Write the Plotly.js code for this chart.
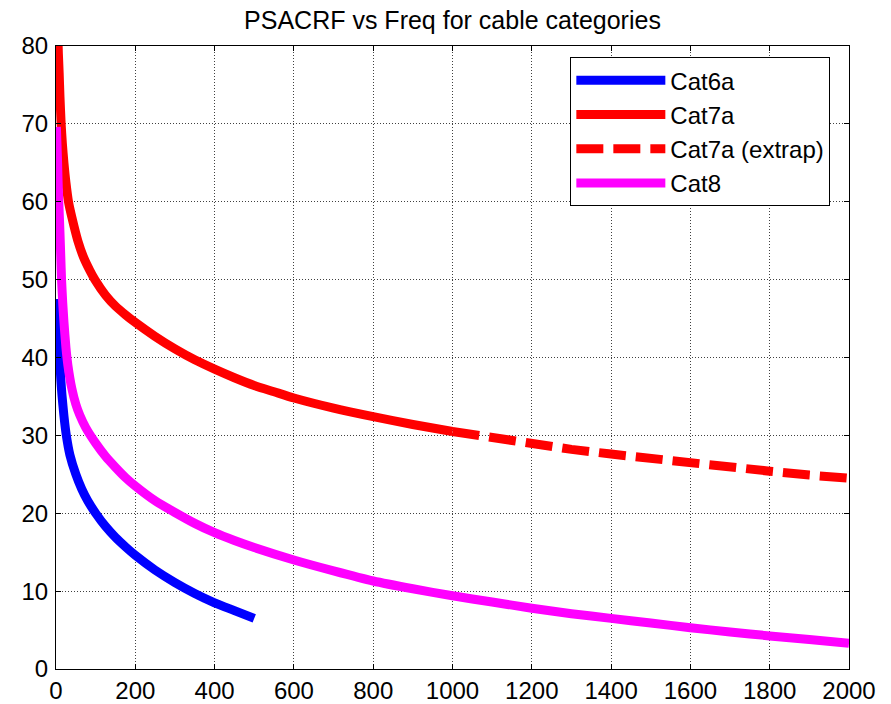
<!DOCTYPE html>
<html>
<head>
<meta charset="utf-8">
<script src="https://cdn.plot.ly/plotly-3.0.1.min.js"></script>
<style>
  html, body { margin: 0; padding: 0; background: #fff; }
  #chart { width: 891px; height: 704px; }
</style>
</head>
<body>
<div id="chart"></div>
<script>
// Frequency (MHz) and PSACRF (dB) per cable category
const cat6aFreq = [1, 2, 4, 6, 9, 12, 15, 20, 26, 35, 50, 65, 80, 100, 125, 150, 175, 200, 250, 300, 350, 400, 450, 500];
const cat6aVals = [47.5, 46, 44, 42, 40, 37.3, 35.2, 32.5, 30, 27.5, 25.0, 23.1, 21.6, 20.0, 18.3, 16.9, 15.7, 14.6, 12.7, 11.1, 9.7, 8.5, 7.5, 6.5];

const cat7aFreq = [1, 2, 3, 4, 6, 8, 10, 13, 16, 20, 25, 31.5, 40, 55, 70, 85, 98, 125, 150, 175, 200, 250, 300, 350, 400, 450, 500, 550, 600, 700, 800, 900, 1000];
const cat7aVals = [90, 87, 84.5, 82.5, 79, 76.5, 73.5, 70, 67.5, 65, 62.5, 60, 58, 55, 52.8, 51.2, 50, 48.0, 46.6, 45.5, 44.5, 42.7, 41.1, 39.7, 38.5, 37.4, 36.4, 35.6, 34.8, 33.5, 32.4, 31.4, 30.5];

const cat7aExtFreq = [1000, 1100, 1200, 1300, 1400, 1500, 1600, 1700, 1800, 1900, 2000];
const cat7aExtVals = [30.5, 29.7, 28.9, 28.2, 27.6, 27.0, 26.4, 25.9, 25.4, 24.9, 24.5];

const cat8Freq = [1, 2, 3, 4, 5, 7, 10, 12, 14, 17, 20, 25, 30, 40, 50, 60, 75, 100, 125, 150, 175, 200, 250, 300, 350, 400, 450, 500, 600, 700, 800, 900, 1000, 1100, 1200, 1300, 1400, 1500, 1600, 1700, 1800, 1900, 2000];
const cat8Vals = [69.6, 68, 66.5, 65, 63, 60, 56, 53, 50, 47, 44.6, 41.3, 39.0, 36.0, 34.0, 32.6, 31.0, 29.0, 27.3, 25.9, 24.6, 23.5, 21.6, 20.1, 18.7, 17.5, 16.5, 15.6, 14.0, 12.6, 11.3, 10.3, 9.4, 8.6, 7.8, 7.1, 6.5, 5.9, 5.3, 4.75, 4.25, 3.8, 3.3];

const xTicks = [0, 200, 400, 600, 800, 1000, 1200, 1400, 1600, 1800, 2000];
const yTicks = [0, 10, 20, 30, 40, 50, 60, 70, 80];

const LW = 9;
const FONT = 'Liberation Sans, Arial, sans-serif';

const traces = [
  { x: cat6aFreq, y: cat6aVals, name: 'Cat6a', mode: 'lines',
    line: { color: '#0000ff', width: LW, shape: 'spline', smoothing: 0.6 } },
  { x: cat7aFreq, y: cat7aVals, name: 'Cat7a', mode: 'lines',
    line: { color: '#ff0000', width: LW, shape: 'spline', smoothing: 0.6 } },
  { x: cat7aExtFreq, y: cat7aExtVals, name: 'Cat7a (extrap)', mode: 'lines',
    line: { color: '#ff0000', width: LW, dash: '27px,10px' } },
  { x: cat8Freq, y: cat8Vals, name: 'Cat8', mode: 'lines',
    line: { color: '#ff00ff', width: LW, shape: 'spline', smoothing: 0.6 } }
];

const axisCommon = {
  showline: true, linecolor: '#000', linewidth: 1, mirror: 'ticks',
  ticks: 'inside', ticklen: 5, tickcolor: '#000', tickwidth: 1,
  showgrid: true, gridcolor: 'rgba(0,0,0,0.75)', gridwidth: 1, griddash: '1px,2px',
  zeroline: false, tickfont: { family: FONT, size: 24, color: '#000' }
};

const layout = {
  width: 891, height: 704,
  margin: { l: 56, r: 42, t: 46, b: 35 },
  paper_bgcolor: '#fff', plot_bgcolor: '#fff',
  font: { family: FONT, color: '#000' },
  title: { text: 'PSACRF vs Freq for cable categories', font: { family: FONT, size: 25, color: '#000' },
           x: 0.5, xref: 'paper', y: 1 - 20 / 704, yref: 'container', yanchor: 'middle' },
  xaxis: Object.assign({}, axisCommon, { range: [0, 2000], tickvals: xTicks, ticktext: xTicks.map(String) }),
  yaxis: Object.assign({}, axisCommon, { range: [0, 80], tickvals: yTicks, ticktext: yTicks.map(String),
                                         ticklabelstandoff: 2 }),
  showlegend: true,
  legend: {
    x: 0.6486, y: 0.982, xanchor: 'left', yanchor: 'top',
    bgcolor: '#fff', bordercolor: '#000', borderwidth: 1,
    font: { family: FONT, size: 24, color: '#000' },
    itemwidth: 89
  }
};

Plotly.newPlot('chart', traces, layout, { displayModeBar: false, staticPlot: true });
</script>
</body>
</html>
